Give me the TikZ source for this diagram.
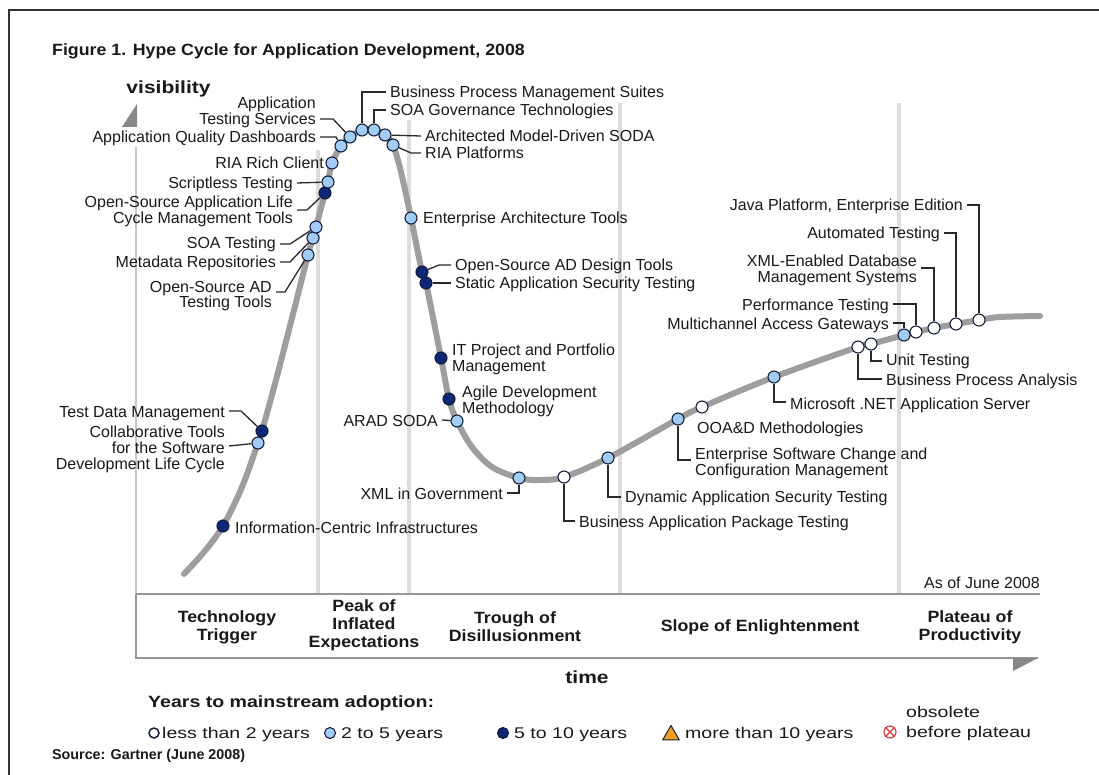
\documentclass[tikz,border=0pt]{standalone}
\usepackage{fontspec}
\usetikzlibrary{shapes.geometric}
\setmainfont{Liberation Sans}
\newfontfamily\wideA[FakeStretch=1.09]{Liberation Sans}
\newfontfamily\wideB[FakeStretch=1.2]{Liberation Sans}
\newfontfamily\wideC[FakeStretch=1.26]{Liberation Sans}
\definecolor{txt}{RGB}{25,25,25}
\definecolor{ldr}{RGB}{40,40,40}
\definecolor{curvegray}{RGB}{158,158,158}
\definecolor{sepgray}{RGB}{220,220,220}
\definecolor{axisgray}{RGB}{200,200,200}
\definecolor{boxgray}{RGB}{150,150,150}
\definecolor{arrgray}{RGB}{135,135,135}
\definecolor{lblue}{RGB}{160,204,245}
\definecolor{dblue}{RGB}{12,38,120}
\definecolor{dotline}{RGB}{20,30,60}
\definecolor{frame}{RGB}{50,50,50}
\definecolor{legorange}{RGB}{245,160,30}
\definecolor{legred}{RGB}{215,60,60}
\begin{document}
\begin{tikzpicture}[x=1pt,y=-1pt,
  lbl/.style={font=\fontsize{16}{16}\selectfont, inner sep=0pt, text=txt},
  ll/.style={lbl, anchor=base east, align=right},
  rl/.style={lbl, anchor=base west, align=left},
  leader/.style={draw=ldr, line width=1.3pt},
  hdot/.style={circle, minimum size=12pt, inner sep=0pt, draw=dotline, line width=1.1pt},
  dl/.style={hdot, fill=lblue}, dd/.style={hdot, fill=dblue}, dw/.style={hdot, fill=white},
  phase/.style={font=\wideA\bfseries\fontsize{16.3}{18}\selectfont, align=center, inner sep=0pt, text=txt},
  leg/.style={font=\wideC\fontsize{15.5}{20}\selectfont, anchor=base west, inner sep=0pt, align=left, text=txt},
  sep/.style={draw=sepgray, line width=4.5pt},
  curve/.style={draw=curvegray, line width=6pt, line cap=round},
]
\useasboundingbox (0,0) rectangle (1099,775);
% frame
\draw[draw=frame, line width=2pt] (9,776) -- (9,10) -- (1100,10);
% phase separators
\draw[sep] (318,150) -- (318,594);
\draw[sep] (409,120) -- (409,594);
\draw[sep] (620,103) -- (620,594);
\draw[sep] (899,103) -- (899,594);
% axes
\draw[draw=axisgray, line width=2pt] (136,147) -- (136,594);
\fill[arrgray] (137,104) -- (137,127) -- (122,127) -- cycle;
\draw[draw=boxgray, line width=1.3pt] (136,594) -- (1040,594);
\draw[draw=boxgray, line width=1.3pt] (136,594) -- (136,658) -- (1038,658);
\fill[arrgray] (1013,658) -- (1038,658) -- (1013,671) -- cycle;
% curve
\draw[curve] plot[smooth, tension=0.55] coordinates {(184,574) (204,552) (223,526) (242,487) (258,443) (262,431) (276,380) (292,318) (308,255) (313,238) (316,227) (325,193) (328,182) (332,163) (341,146) (350,137) (362,130) (374,130) (385,135) (393,145) (401,172) (411,218) (422,272) (426,283) (441,358) (449,399) (457,421) (472,447) (492,467) (519,478) (540,480) (564,477) (608,458) (678,419) (702,407) (774,377) (858,347) (871,344) (904,335) (916,332) (934,328) (956,324) (979,320) (1000,317) (1040,316)};
% dots
\node[dd] (d_info) at (223,526) {};
\node[dd] (d_tdm) at (262,431) {};
\node[dl] (d_collab) at (258,443) {};
\node[dl] (d_osadt) at (308,255) {};
\node[dl] (d_meta) at (313,238) {};
\node[dl] (d_soat) at (316,227) {};
\node[dd] (d_osalc) at (325,193) {};
\node[dl] (d_scr) at (328,182) {};
\node[dl] (d_ria) at (332,163) {};
\node[dl] (d_aqd) at (341,146) {};
\node[dl] (d_ats) at (350,137) {};
\node[dl] (d_bpms) at (362,130) {};
\node[dl] (d_soag) at (374,130) {};
\node[dl] (d_amd) at (385,135) {};
\node[dl] (d_riap) at (393,145) {};
\node[dl] (d_eat) at (411,218) {};
\node[dd] (d_osadd) at (422,272) {};
\node[dd] (d_sast) at (426,283) {};
\node[dd] (d_itpm) at (441,358) {};
\node[dd] (d_agile) at (449,399) {};
\node[dl] (d_arad) at (457,421) {};
\node[dl] (d_xml) at (519,478) {};
\node[dw] (d_bapt) at (564,477) {};
\node[dl] (d_dast) at (608,458) {};
\node[dl] (d_escm) at (678,419) {};
\node[dw] (d_ooad) at (702,407) {};
\node[dl] (d_net) at (774,377) {};
\node[dw] (d_bpa) at (858,347) {};
\node[dw] (d_unit) at (871,344) {};
\node[dl] (d_mag) at (904,335) {};
\node[dw] (d_perf) at (916,332) {};
\node[dw] (d_xmldb) at (934,328) {};
\node[dw] (d_auto) at (956,324) {};
\node[dw] (d_java) at (979,320) {};
% labels left (base = baseline of last line)
\node[ll] (l_ats) at (316,125) {Application\\Testing Services};
\node[ll] (l_aqd) at (316,143) {Application Quality Dashboards};
\node[ll] (l_ria) at (324,169) {RIA Rich Client};
\node[ll] (l_scr) at (293,189) {Scriptless Testing};
\node[ll] (l_osalc) at (293,224) {Open-Source Application Life\\Cycle Management Tools};
\node[ll] (l_soat) at (276,249) {SOA Testing};
\node[ll] (l_meta) at (276,268) {Metadata Repositories};
\node[ll] (l_osadt) at (272,308) {Open-Source AD\\Testing Tools};
\node[ll] (l_tdm) at (225,417) {Test Data Management};
\node[ll] (l_collab) at (225,469) {Collaborative Tools\\for the Software\\Development Life Cycle};
\node[ll] (l_arad) at (438,426) {ARAD SODA};
\node[ll] (l_xml) at (503,499) {XML in Government};
\node[ll] (l_mag) at (889,329) {Multichannel Access Gateways};
\node[ll] (l_perf) at (889,310) {Performance Testing};
\node[ll] (l_xmldb) at (917,283) {XML-Enabled Database\\Management Systems};
\node[ll] (l_auto) at (940,239) {Automated Testing};
\node[ll] (l_java) at (963,211) {Java Platform, Enterprise Edition};
% labels right
\node[rl] (l_bpms) at (390,98) {Business Process Management Suites};
\node[rl] (l_soag) at (390,116) {SOA Governance Technologies};
\node[rl] (l_amd) at (425,142) {Architected Model-Driven SODA};
\node[rl] (l_riap) at (425,159) {RIA Platforms};
\node[rl] (l_eat) at (423,224) {Enterprise Architecture Tools};
\node[rl] (l_osadd) at (455,271) {Open-Source AD Design Tools};
\node[rl] (l_sast) at (455,289) {Static Application Security Testing};
\node[rl] (l_itpm) at (452,371) {IT Project and Portfolio\\Management};
\node[rl] (l_agile) at (462,413) {Agile Development\\Methodology};
\node[rl] (l_info) at (235,533) {Information-Centric Infrastructures};
\node[rl] (l_bapt) at (579,527) {Business Application Package Testing};
\node[rl] (l_dast) at (625,502) {Dynamic Application Security Testing};
\node[rl] (l_escm) at (695,475) {Enterprise Software Change and\\Configuration Management};
\node[rl] (l_ooad) at (697,433) {OOA\&D Methodologies};
\node[rl] (l_net) at (790,409) {Microsoft .NET Application Server};
\node[rl] (l_unit) at (886,365) {Unit Testing};
\node[rl] (l_bpa) at (886,385) {Business Process Analysis};
% leaders
\draw[leader] ([shift={(4,-6)}]l_ats.base east) -- ++(13,0) -- (d_ats);
\draw[leader] ([shift={(4,-6)}]l_aqd.base east) -- ++(16,0) -- (d_aqd);
\draw[leader] ([shift={(4,-6)}]l_scr.base east) -- (d_scr);
\draw[leader] ([shift={(4,-14)}]l_osalc.base east) -- ++(10,0) -- (d_osalc);
\draw[leader] ([shift={(4,-5)}]l_soat.base east) -- ++(10,0) -- (d_soat);
\draw[leader] ([shift={(4,-6)}]l_meta.base east) -- ++(10,0) -- (d_meta);
\draw[leader] ([shift={(4,-16)}]l_osadt.base east) -- ++(9,0) -- (d_osadt);
\draw[leader] ([shift={(4,-6)}]l_tdm.base east) -- ++(12,0) -- (d_tdm);
\draw[leader] ([shift={(4,-23)}]l_collab.base east) -- (d_collab);
\draw[leader] ([shift={(4,-6)}]l_arad.base east) -- (d_arad);
\draw[leader] ([shift={(4,-6)}]l_xml.base east) -| (d_xml);
\draw[leader] ([shift={(4,-6)}]l_mag.base east) -| (d_mag);
\draw[leader] ([shift={(4,-6)}]l_perf.base east) -| (d_perf);
\draw[leader] ([shift={(4,-15)}]l_xmldb.base east) -| (d_xmldb);
\draw[leader] ([shift={(4,-6)}]l_auto.base east) -| (d_auto);
\draw[leader] ([shift={(4,-6)}]l_java.base east) -| (d_java);
\draw[leader] ([shift={(-4,-6)}]l_bpms.base west) -| (d_bpms);
\draw[leader] ([shift={(-4,-6)}]l_soag.base west) -| (d_soag);
\draw[leader] ([shift={(-4,-6)}]l_amd.base west) -- (d_amd);
\draw[leader] ([shift={(-4,-6)}]l_riap.base west) -- ++(-10,0) -- (d_riap);
\draw[leader] ([shift={(-4,-6)}]l_osadd.base west) -- ++(-12,0) -- (d_osadd);
\draw[leader] ([shift={(-4,-6)}]l_sast.base west) -- (d_sast);
\draw[leader] (d_escm) |- ([shift={(-4,-15)}]l_escm.base west);
\draw[leader] (d_dast) |- ([shift={(-4,-5)}]l_dast.base west);
\draw[leader] (d_bapt) |- ([shift={(-4,-6)}]l_bapt.base west);
\draw[leader] (d_net) |- ([shift={(-4,-7)}]l_net.base west);
\draw[leader] (d_unit) |- ([shift={(-4,-4)}]l_unit.base west);
\draw[leader] (d_bpa) |- ([shift={(-4,-6)}]l_bpa.base west);
% titles and axis labels
\node[anchor=base west, inner sep=0pt, font=\wideA\bfseries\fontsize{16.3}{18}\selectfont, text=txt] (title) at (52,56) {Figure 1. Hype Cycle for Application Development, 2008};
\node[inner sep=0pt, font=\wideB\bfseries\fontsize{17.5}{20}\selectfont, text=txt] (vis) at (168.5,89) {visibility};
\node[inner sep=0pt, font=\wideB\bfseries\fontsize{17.5}{20}\selectfont, text=txt] (time) at (587,677) {time};
\node[lbl, anchor=base east] (asof) at (1040,588) {As of June 2008};
% phases
\node[phase] (p1) at (227,627) {Technology\\Trigger};
\node[phase] (p2) at (364,625) {Peak of\\Inflated\\Expectations};
\node[phase] (p3) at (515,627) {Trough of\\Disillusionment};
\node[phase] (p4) at (760,627) {Slope of Enlightenment};
\node[phase] (p5) at (970,627) {Plateau of\\Productivity};
% legend
\node[anchor=west, inner sep=0pt, font=\wideB\bfseries\fontsize{16.3}{20}\selectfont, text=txt] (yhead) at (148,703) {Years to mainstream adoption:};
\node[dw, minimum size=10pt, line width=1.5pt] (k1) at (154,733) {};
\node[leg] (t1) at (162,738.5) {less than 2 years};
\node[dl, minimum size=11pt] (k2) at (330,733) {};
\node[leg] (t2) at (341,738.5) {2 to 5 years};
\node[dd, minimum size=11pt] (k3) at (503,733) {};
\node[leg] (t3) at (514,738.5) {5 to 10 years};
\node[regular polygon, regular polygon sides=3, minimum size=19pt, inner sep=0pt, draw=dotline, line width=1pt, fill=legorange] (k4) at (671,735) {};
\node[leg] (t4) at (685,738.5) {more than 10 years};
\node[circle, minimum size=12pt, inner sep=0pt, draw=legred, line width=1.2pt] (k5) at (890,732) {};
\draw[draw=legred, line width=1.2pt] (k5.north west) -- (k5.south east) (k5.north east) -- (k5.south west);
\node[leg] (t5) at (906,737.5) {obsolete\\before plateau};
\node[anchor=west, inner sep=0pt, font=\bfseries\fontsize{14.3}{16}\selectfont, text=txt] (src) at (52,756) {Source: Gartner (June 2008)};
\end{tikzpicture}
\end{document}
